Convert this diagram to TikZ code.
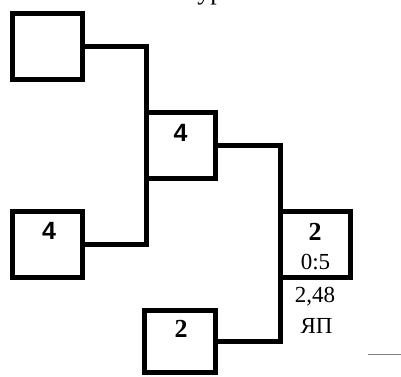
\documentclass[tikz,border=0pt]{standalone}
\usepackage{fontspec}
\setmainfont{Liberation Serif}
\newfontfamily\arialfont{Liberation Sans}
\begin{document}
\begin{tikzpicture}[x=1pt,y=-1pt,
  box/.style={draw=black,line width=5pt,minimum width=70pt,minimum height=66pt,inner sep=0pt,outer sep=0pt},
  conn/.style={draw=black,line width=5pt},
  numsans/.style={font=\arialfont\bfseries\fontsize{25}{25}\selectfont,anchor=base,inner sep=0pt},
  numserif/.style={font=\bfseries\fontsize{26}{26}\selectfont,anchor=base,inner sep=0pt},
  small/.style={font=\fontsize{23}{23}\selectfont,anchor=base,inner sep=0pt}]
\useasboundingbox (0,0) rectangle (401,376);
\node[font=\fontsize{26}{26}\selectfont,anchor=base,inner sep=0pt] (title) at (215,-1) {Тур В};
\node[box] (b1) at (47.5,46.5) {};
\node[box,minimum width=69pt] (b2) at (181,145.5) {};
\node[box] (b3) at (47.5,244.5) {};
\node[box] (b4) at (315.5,244.5) {};
\node[box,minimum width=71pt,minimum height=62pt] (b5) at (180,341.5) {};
\draw[conn] (b1.east) -| (b2.north west);
\draw[conn] (b3.east) -| (b2.south west);
\draw[conn] (b2.east) -| (b4.north west);
\draw[conn] (b5.east) -| (b4.south west);
\node[numsans] (t2) at (180.5,141) {4};
\node[numsans] (t3) at (49,239) {4};
\node[numserif] (t4) at (315,240) {2};
\node[small] (s4) at (315.5,269) {0:5};
\node[small] (r1) at (315,302) {2,48};
\node[small] (r2) at (316.5,333) {ЯП};
\node[numserif] (t5) at (181,337) {2};
\coordinate (g1) at (368,354);
\coordinate (g2) at (401,354);
\draw[gray,line width=1pt] (g1) -- (g2);
\end{tikzpicture}
\end{document}
